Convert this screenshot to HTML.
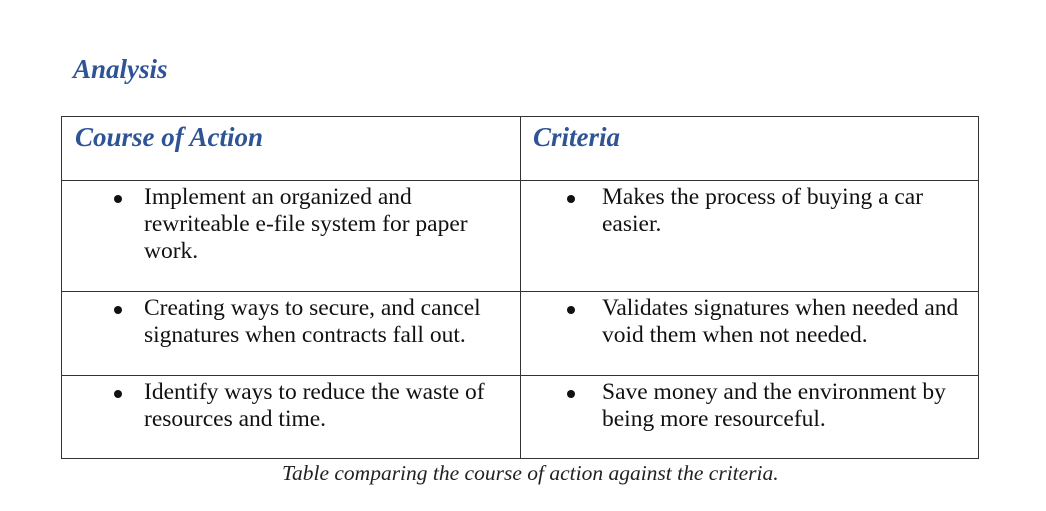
<!DOCTYPE html>
<html><head><style>
body{margin:0;width:1046px;height:511px;background:#fff;position:relative;font-family:"Liberation Serif","Times New Roman",serif;overflow:hidden}
.t{position:absolute;white-space:nowrap}
.h{color:#2F5496;font-weight:bold;font-style:italic;font-size:27px}
.b{font-size:23.5px;line-height:27px;color:#111}
.l{position:absolute;background:#333}
.dot{position:absolute;width:8px;height:8px;border-radius:50%;background:#111}
</style></head><body>
<div class="t h" style="left:73px;top:54px">Analysis</div>
<div class="l" style="left:61px;top:116px;width:918px;height:1px"></div>
<div class="l" style="left:61px;top:180px;width:918px;height:1px"></div>
<div class="l" style="left:61px;top:291px;width:918px;height:1px"></div>
<div class="l" style="left:61px;top:375px;width:918px;height:1px"></div>
<div class="l" style="left:61px;top:458px;width:918px;height:1px"></div>
<div class="l" style="left:61px;top:116px;width:1px;height:343px"></div>
<div class="l" style="left:520px;top:116px;width:1px;height:343px"></div>
<div class="l" style="left:978px;top:116px;width:1px;height:343px"></div>
<div class="t h" style="left:75px;top:122px">Course of Action</div>
<div class="t h" style="left:533px;top:122px">Criteria</div>

<div class="dot" style="left:114px;top:195px"></div>
<div class="t b" style="left:144px;top:184px">Implement an organized and<br>rewriteable e-file system for paper<br>work.</div>
<div class="dot" style="left:567px;top:195px"></div>
<div class="t b" style="left:602px;top:184px">Makes the process of buying a car<br>easier.</div>

<div class="dot" style="left:114px;top:306px"></div>
<div class="t b" style="left:144px;top:295px">Creating ways to secure, and cancel<br>signatures when contracts fall out.</div>
<div class="dot" style="left:567px;top:306px"></div>
<div class="t b" style="left:602px;top:295px">Validates signatures when needed and<br>void them when not needed.</div>

<div class="dot" style="left:114px;top:390px"></div>
<div class="t b" style="left:144px;top:379px">Identify ways to reduce the waste of<br>resources and time.</div>
<div class="dot" style="left:567px;top:390px"></div>
<div class="t b" style="left:602px;top:379px">Save money and the environment by<br>being more resourceful.</div>

<div class="t" style="left:282px;top:461px;font-style:italic;font-size:21.5px;color:#222">Table comparing the course of action against the criteria.</div>
</body></html>
